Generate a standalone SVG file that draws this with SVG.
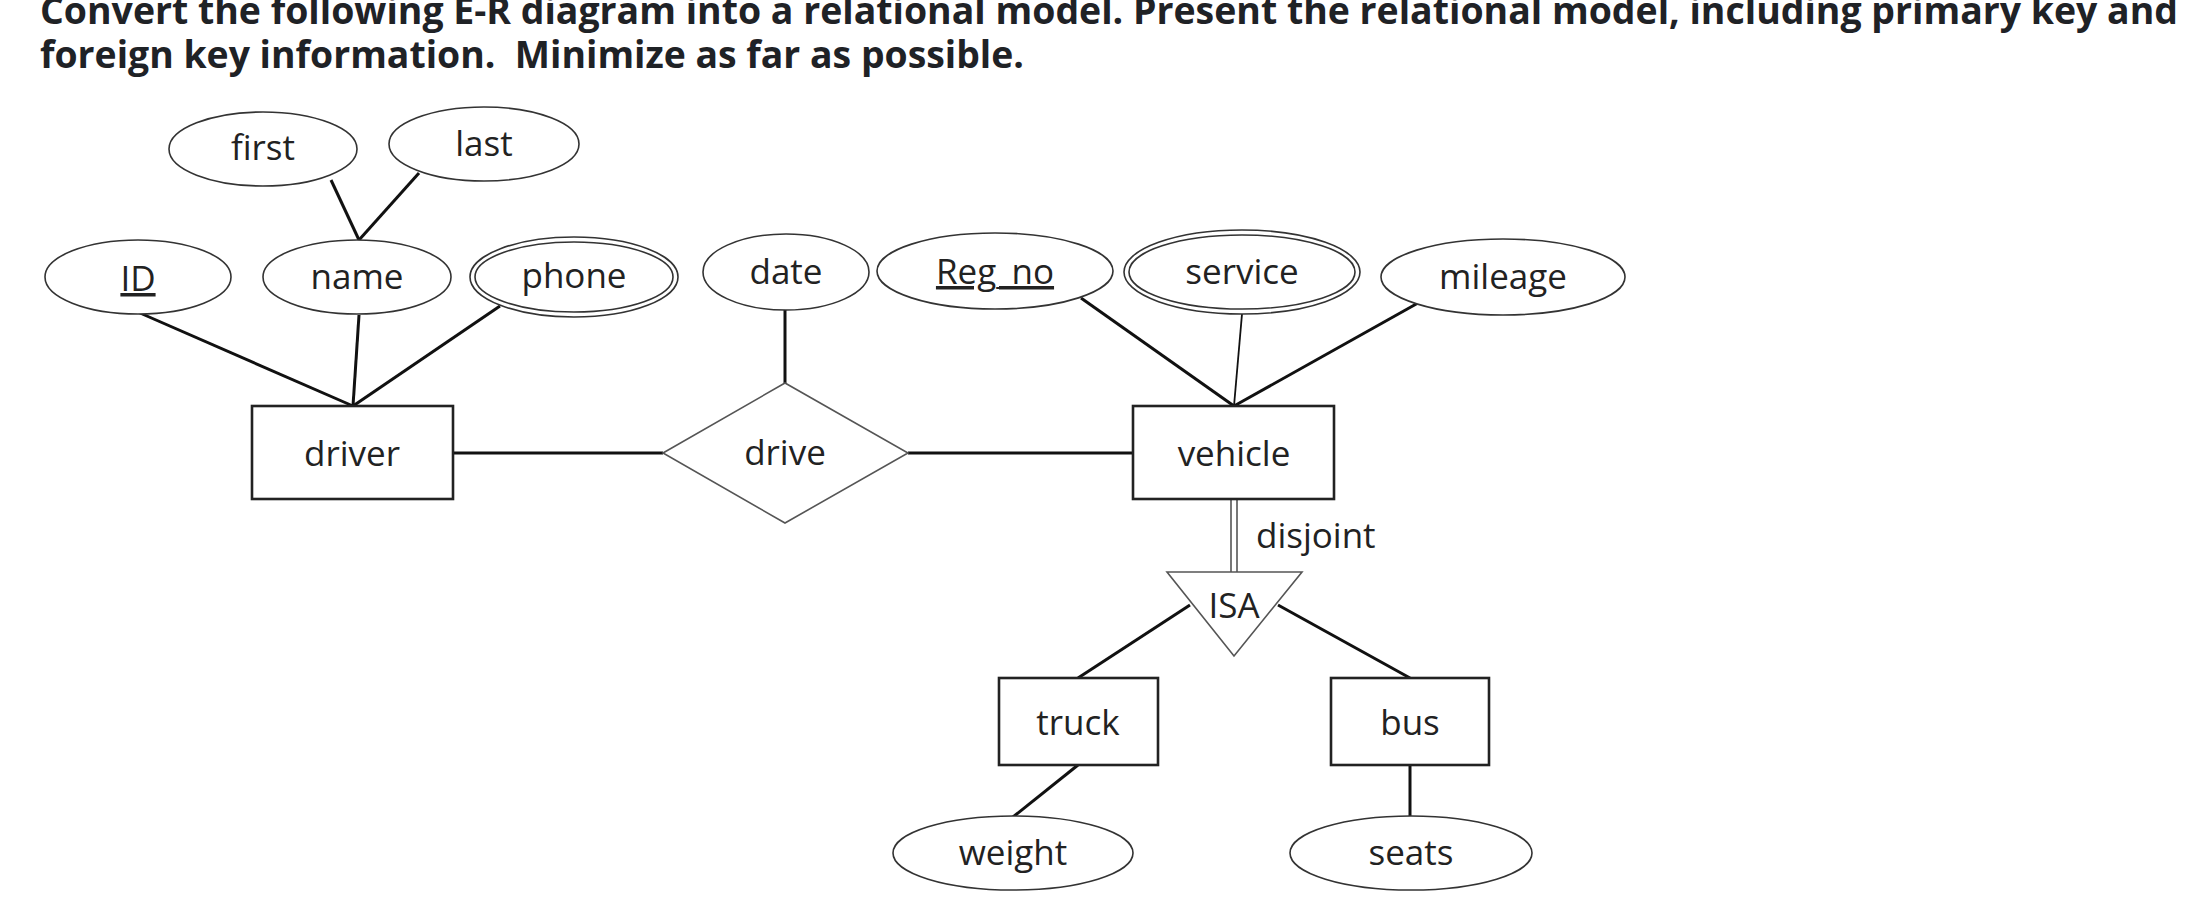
<svg xmlns="http://www.w3.org/2000/svg" width="2188" height="914" viewBox="0 0 2188 914">
<style>
.title{font-family:"Open Sans","Liberation Sans",sans-serif;font-weight:700;font-size:37px;fill:#1f2226}
.lbl{font-family:"Open Sans","Liberation Sans",sans-serif;font-size:35px;fill:#222;text-anchor:middle}
.attr{fill:#fff;stroke:#333;stroke-width:1.6}
.ent{fill:#fff;stroke:#222;stroke-width:2.6}
.rel{fill:#fff;stroke:#555;stroke-width:1.6}
.ln{stroke:#111;stroke-width:3;fill:none}
.thin{stroke:#111;stroke-width:1.8;fill:none}
.dbl{stroke:#555;stroke-width:1.6;fill:none}
</style>
<rect width="2188" height="914" fill="#fff"/>
<g id="title">
<text class="title" x="40" y="24" textLength="2138" lengthAdjust="spacingAndGlyphs">Convert the following E-R diagram into a relational model. Present the relational model, including primary key and</text>
<text class="title" x="40" y="68" textLength="984" lengthAdjust="spacingAndGlyphs" xml:space="preserve">foreign key information.  Minimize as far as possible.</text>
</g>
<g id="connectors">
<line class="ln" x1="331" y1="180" x2="359" y2="240"/>
<line class="ln" x1="419" y1="173" x2="359" y2="240"/>
<line class="ln" x1="140" y1="313" x2="353" y2="406"/>
<line class="ln" x1="359" y1="315" x2="353" y2="406"/>
<line class="ln" x1="500" y1="306" x2="353" y2="406"/>
<line class="ln" x1="785" y1="310" x2="785" y2="384"/>
<line class="ln" x1="1081" y1="298" x2="1234" y2="406"/>
<line class="thin" x1="1242" y1="314" x2="1234" y2="406"/>
<line class="ln" x1="1418" y1="303" x2="1234" y2="406"/>
<line class="ln" x1="453" y1="453" x2="663" y2="453"/>
<line class="ln" x1="908" y1="453" x2="1133" y2="453"/>
<line class="dbl" x1="1231" y1="498" x2="1231" y2="572"/>
<line class="dbl" x1="1237" y1="498" x2="1237" y2="572"/>
<line class="ln" x1="1190" y1="605" x2="1078" y2="678"/>
<line class="ln" x1="1278" y1="605" x2="1410" y2="678"/>
<line class="ln" x1="1078" y1="765" x2="1013" y2="817"/>
<line class="ln" x1="1410" y1="765" x2="1410" y2="817"/>
</g>
<g id="first"><ellipse class="attr" cx="263" cy="149" rx="94" ry="37"/><text class="lbl" x="263" y="160">first</text></g>
<g id="last"><ellipse class="attr" cx="484" cy="144" rx="95" ry="37"/><text class="lbl" x="484" y="156">last</text></g>
<g id="ID"><ellipse class="attr" cx="138" cy="277" rx="93" ry="37"/><text class="lbl" x="138" y="291" text-decoration="underline">ID</text></g>
<g id="name"><ellipse class="attr" cx="357" cy="277" rx="94" ry="37"/><text class="lbl" x="357" y="289">name</text></g>
<g id="phone"><ellipse class="attr" cx="574" cy="277" rx="104" ry="40"/><ellipse class="attr" cx="574" cy="277" rx="99" ry="35"/><text class="lbl" x="574" y="288">phone</text></g>
<g id="date"><ellipse class="attr" cx="786" cy="272" rx="83" ry="38"/><text class="lbl" x="786" y="284">date</text></g>
<g id="Reg_no"><ellipse class="attr" cx="995" cy="271" rx="118" ry="38"/><text class="lbl" x="995" y="284" text-decoration="underline">Reg_no</text></g>
<g id="service"><ellipse class="attr" cx="1242" cy="272" rx="118" ry="42"/><ellipse class="attr" cx="1242" cy="272" rx="113" ry="37"/><text class="lbl" x="1242" y="284">service</text></g>
<g id="mileage"><ellipse class="attr" cx="1503" cy="277" rx="122" ry="38"/><text class="lbl" x="1503" y="289">mileage</text></g>
<g id="driver"><rect class="ent" x="252" y="406" width="201" height="93"/><text class="lbl" x="352" y="466">driver</text></g>
<g id="drive"><polygon class="rel" points="663,453 785,383 908,453 785,523"/><text class="lbl" x="785" y="465">drive</text></g>
<g id="vehicle"><rect class="ent" x="1133" y="406" width="201" height="93"/><text class="lbl" x="1234" y="466">vehicle</text></g>
<g id="isa"><polygon class="rel" points="1167,572 1302,572 1234,656"/><text class="lbl" x="1234" y="618">ISA</text><text class="lbl" x="1256" y="548" text-anchor="start" style="text-anchor:start">disjoint</text></g>
<g id="truck"><rect class="ent" x="999" y="678" width="159" height="87"/><text class="lbl" x="1078" y="735">truck</text></g>
<g id="bus"><rect class="ent" x="1331" y="678" width="158" height="87"/><text class="lbl" x="1410" y="735">bus</text></g>
<g id="weight"><ellipse class="attr" cx="1013" cy="853" rx="120" ry="37"/><text class="lbl" x="1013" y="865">weight</text></g>
<g id="seats"><ellipse class="attr" cx="1411" cy="853" rx="121" ry="37"/><text class="lbl" x="1411" y="865">seats</text></g>
</svg>
